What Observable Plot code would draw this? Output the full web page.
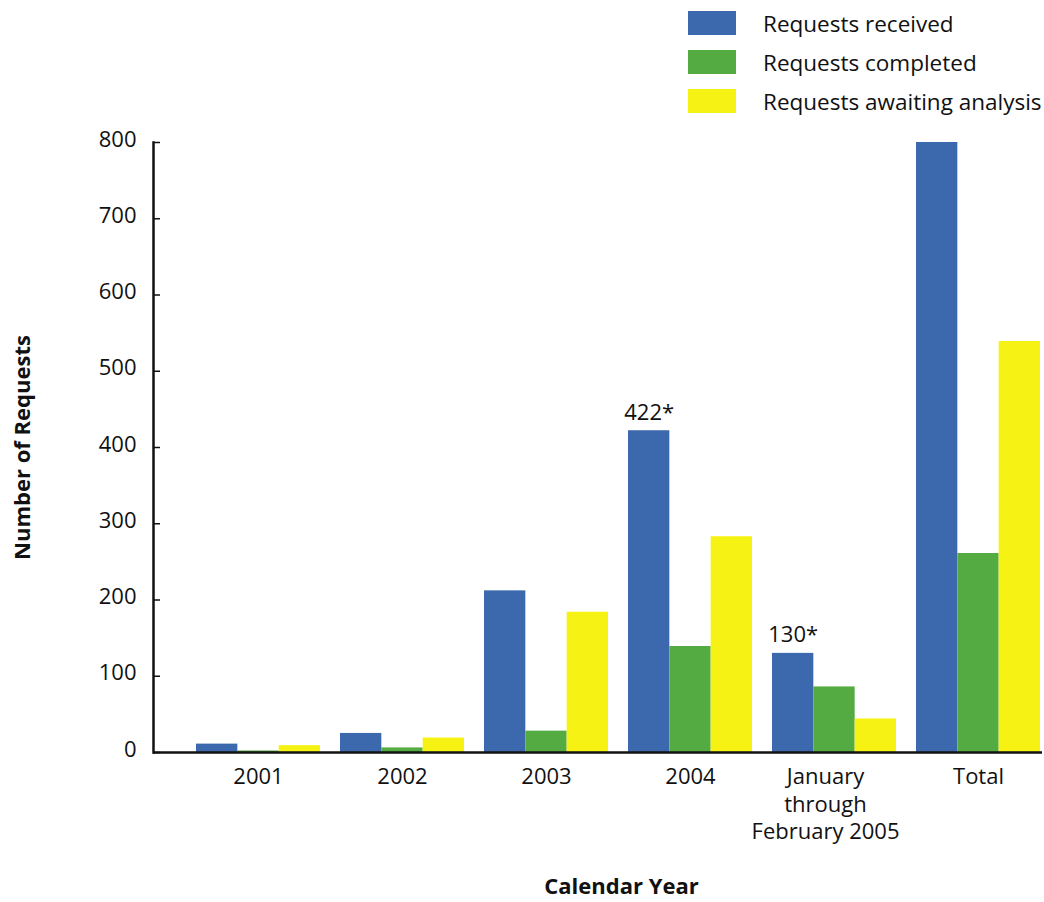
<!DOCTYPE html>
<html><head><meta charset="utf-8">
<script src="https://cdn.jsdelivr.net/npm/d3@7"></script>
<script src="https://cdn.jsdelivr.net/npm/@observablehq/plot@0.6"></script>
<style>
body{margin:0;background:#fff;font-family:"Open Sans",sans-serif;color:#111;overflow:hidden}
#legend{position:relative;width:1044px;height:120px}
.sw{position:absolute;left:688px;width:48px;height:24px}
.lt{position:absolute;left:763px;font-size:22.5px;line-height:24px;white-space:nowrap}
</style></head><body>
<div id="legend"></div>
<div id="chart"></div>
<script>
const categories = ["2001", "2002", "2003", "2004", "Jan-Feb 2005", "Total"];
const tickLabels = ["2001", "2002", "2003", "2004", "January\nthrough\nFebruary 2005", "Total"];
const seriesNames = ["Requests received", "Requests completed", "Requests awaiting analysis"];
const seriesColors = ["#3c69ad", "#54ab42", "#f6f314"];
const received = [11, 25, 212, 422, 130, 800];
const completed = [2, 6, 28, 139, 86, 261];
const awaiting = [9, 19, 184, 283, 44, 539];
const yTicks = [0, 100, 200, 300, 400, 500, 600, 700, 800];
const annotatedCategories = ["2004", "Jan-Feb 2005"];
const yTitle = "Number of Requests";
const xTitle = "Calendar Year";

const seriesValues = [received, completed, awaiting];
const rows = categories.flatMap((c, i) => seriesNames.map((s, k) => ({category: c, series: s, k, value: seriesValues[k][i]})));
const notes = annotatedCategories.map(c => ({category: c, value: received[categories.indexOf(c)], label: received[categories.indexOf(c)] + "*"}));

// legend
const legend = document.getElementById("legend");
seriesNames.forEach((s, k) => {
  const sw = document.createElement("div");
  sw.className = "sw"; sw.style.top = (11 + 39 * k) + "px"; sw.style.background = seriesColors[k];
  const t = document.createElement("div");
  t.className = "lt"; t.style.top = (11.5 + 39 * k) + "px"; t.textContent = s;
  legend.append(sw, t);
});

const bandwidth = 124, third = bandwidth / 3;
const fmt = d => tickLabels[categories.indexOf(d)];
const longLabel = "Jan-Feb 2005";
const xAxisOpts = {tickSize: 0, tickPadding: 12, fontSize: 22, lineHeight: 1.25, label: null, tickFormat: fmt};
const plot = Plot.plot({
  width: 1044, height: 782,
  marginTop: 22, marginBottom: 150, marginLeft: 153, marginRight: 2,
  style: {fontFamily: "'Open Sans', sans-serif", fontSize: "22px", color: "#111", background: "#fff"},
  x: {domain: categories, paddingInner: 20 / 144, paddingOuter: 0.15625, align: 0.956, axis: null},
  y: {domain: [0, 800], axis: null},
  color: {domain: seriesNames, range: seriesColors},
  marks: [
    ...seriesNames.map((s, k) => Plot.barY(rows.filter(d => d.k === k), {
      x: "category", y: "value", fill: "series",
      insetLeft: k * third, insetRight: (2 - k) * third
    })),
    Plot.ruleY([0], {stroke: "#111", strokeWidth: 2.5}),
    Plot.frame({anchor: "left", stroke: "#111", strokeWidth: 2.5}),
    Plot.axisY({ticks: yTicks, tickSize: -7, tickFormat: () => "", strokeWidth: 1.5, label: null}),
    Plot.axisY({ticks: yTicks, tickSize: 0, tickPadding: 17, dy: -3, label: null, fontSize: 22}),
    Plot.axisX(categories.filter(c => c !== longLabel), xAxisOpts),
    Plot.axisX([longLabel], {...xAxisOpts, dx: -9}),
    Plot.text(notes, {x: "category", y: "value", text: "label", dx: -third, dy: -11, lineAnchor: "bottom", fontSize: 22}),
    Plot.text([yTitle], {frameAnchor: "left", textAnchor: "middle", rotate: -90, dx: -131, fontWeight: "bold", fontSize: 22}),
    Plot.text([xTitle], {frameAnchor: "bottom", textAnchor: "middle", dx: 23.5, dy: 141, fontWeight: "bold", fontSize: 22})
  ]
});
document.getElementById("chart").append(plot);
</script>
</body></html>
